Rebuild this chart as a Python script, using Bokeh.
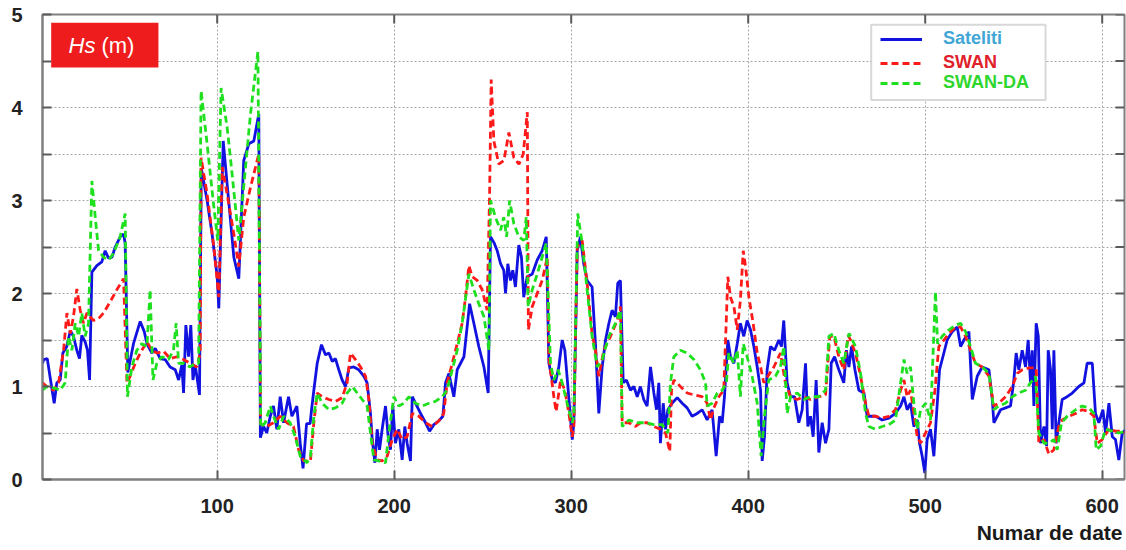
from bokeh.plotting import figure
from bokeh.models import (Range1d, FixedTicker, Legend, LegendItem,
                          BoxAnnotation, Label, Title)
from bokeh.embed import file_html
from bokeh.resources import INLINE

# ---------------- data ----------------
sat_x = [1.3, 2, 4, 5.6, 7.9, 9.4, 11.3, 12.8, 15, 17, 18.8, 20.7, 22.2, 23.5, 25.4, 26.7, 27.9,
         29.2, 32, 34.8, 36.7, 38.6, 40.5, 42.4, 45.2, 47.1, 48, 49.5, 52.7, 56.5, 58.8, 60.3, 63.1,
         65, 67.8, 70.6, 73.4, 76.3, 78.2, 80, 81, 82.3, 83.8, 85.1, 86.3, 87.6, 90, 91, 94.3, 97.1,
         100, 100.9, 103.4, 105.6, 107.5, 109.4, 112.2, 115, 117.9, 120.7, 123.5, 124.4, 126.2, 128,
         130, 131.8, 133.7, 135.6, 137.5, 140.3, 142.2, 145, 146.9, 148.5, 150.5, 152.5, 153.3,
         154.6, 156.5, 158.9, 161.2, 163.1, 165, 166.8, 168.7, 170.6, 172.5, 174.4, 177.2, 180,
         182.9, 184.7, 186.6, 187.6, 189.1, 190.4, 191.7, 193.2, 195.1, 196.6, 197.9, 199.2, 200.7,
         202.6, 204.5, 206, 207.3, 209.2, 210.2, 212, 214.9, 217.7, 220, 222.4, 225.2, 227.5, 229,
         230.9, 233.7, 235.6, 237.5, 239.4, 241.2, 242.6, 245, 247.8, 250.7, 253.1, 254.4, 256.3,
         258.2, 260.1, 261.9, 262.9, 264.2, 265.7, 267, 268.5, 270.4, 271.9, 273.2, 275.1, 278,
         280.8, 283.6, 285.9, 287.4, 289.3, 291.1, 293, 294.9, 296.4, 298.3, 300.6, 301.5, 303.4,
         305.2, 307.1, 309, 311.8, 313.7, 315.6, 317.5, 319.4, 321.3, 323.1, 325, 326.3, 327.8,
         329.4, 331.2, 333.5, 335.4, 337.3, 339.1, 341, 342.9, 344.8, 346.7, 348.2, 349.5, 350.4,
         352, 353.3, 354.6, 357, 359.9, 362.7, 365.5, 368.3, 371.2, 374, 376.8, 379.6, 381.9, 383.8,
         385.3, 386.6, 388.5, 390, 391.9, 393.8, 395.6, 397.5, 399.4, 401.3, 403.2, 405.1, 407,
         407.9, 409.2, 410.7, 412.6, 414.9, 417.3, 418.8, 420.1, 422, 423.9, 426.2, 428.6, 430.5,
         432.4, 433.7, 435.2, 436.7, 438.4, 439.9, 441.8, 443.7, 445.6, 446.9, 448.8, 451.2, 454,
         455.5, 456.9, 458.4, 460.3, 462.5, 465.4, 467.2, 472, 475.7, 479.5, 483.2, 486.1, 488,
         489.8, 491.7, 493.6, 495.5, 496.8, 498.3, 499.8, 501.1, 503, 504.9, 506.2, 508.1, 510,
         512.4, 515.3, 518.1, 520, 521.9, 524.7, 526.6, 529.4, 532.2, 536, 537.9, 538.8, 540.7,
         542.6, 545.4, 548.2, 550.1, 551.4, 552.9, 554.8, 556.7, 558.2, 559.5, 560.5, 561.4, 562.7,
         563.9, 565.2, 567.1, 568.6, 569.5, 570.8, 571.8, 572.7, 574, 575.5, 577.4, 580.2, 583.1,
         586.8, 589.7, 591.5, 594.4, 596.2, 598.1, 600.4, 601.9, 603.8, 605.7, 607.5, 609.4, 611.3,
         613.8]
sat_hs = [1.25, 1.29, 1.3, 1.1, 0.82, 1.04, 1.07, 1.36, 1.43, 1.6, 1.54, 1.39, 1.3, 1.55, 1.48, 1.39,
          1.07, 2.23, 2.3, 2.34, 2.46, 2.38, 2.39, 2.5, 2.61, 2.64, 2.54, 1.15, 1.46, 1.7, 1.59, 1.46,
          1.36, 1.41, 1.3, 1.29, 1.21, 1.18, 1.07, 1.23, 0.93, 1.66, 1.32, 1.66, 1.07, 1.23, 0.91,
          3.35, 3.0, 2.64, 2.18, 1.84, 3.64, 3.18, 2.79, 2.39, 2.16, 3.43, 3.61, 3.64, 3.93, 0.45,
          0.57, 0.5, 0.68, 0.79, 0.54, 0.89, 0.61, 0.89, 0.68, 0.79, 0.39, 0.12, 0.6, 0.6, 0.75,
          0.96, 1.25, 1.45, 1.34, 1.36, 1.27, 1.3, 1.18, 1.07, 1.0, 1.2, 1.21, 1.18, 1.11, 1.04,
          0.71, 0.43, 0.18, 0.54, 0.32, 0.54, 0.79, 0.46, 0.32, 0.79, 0.39, 0.54, 0.21, 0.57, 0.39,
          0.2, 0.89, 0.82, 0.71, 0.61, 0.52, 0.59, 0.63, 0.68, 1.04, 1.14, 0.89, 1.18, 1.25, 1.32,
          1.64, 1.89, 1.68, 1.43, 1.21, 0.93, 2.61, 2.55, 2.46, 2.32, 2.25, 2.0, 2.32, 2.14, 2.25,
          2.07, 2.52, 2.39, 1.96, 2.18, 2.21, 2.36, 2.46, 2.61, 1.25, 1.07, 1.04, 1.21, 1.5, 1.39,
          0.96, 0.43, 0.61, 2.46, 2.61, 2.32, 2.14, 2.07, 1.46, 0.71, 1.21, 1.5, 1.68, 1.82, 1.75,
          2.11, 2.14, 1.04, 1.07, 0.96, 1.0, 0.89, 1.0, 0.86, 0.79, 1.21, 0.93, 0.75, 1.04, 0.39,
          0.82, 0.54, 0.75, 0.82, 0.88, 0.82, 0.77, 0.68, 0.71, 0.75, 0.64, 0.75, 0.25, 0.68, 0.61,
          0.89, 1.5, 1.32, 1.25, 1.46, 1.68, 1.54, 1.71, 1.61, 1.43, 1.21, 0.96, 0.2, 0.46, 1.18,
          1.43, 1.39, 1.5, 1.43, 1.71, 1.04, 0.89, 0.89, 0.61, 0.75, 1.25, 0.57, 0.68, 0.46, 1.07,
          0.29, 0.61, 0.39, 0.54, 1.25, 1.32, 1.18, 1.04, 1.39, 1.21, 1.43, 1.18, 0.96, 0.93, 0.68,
          0.68, 0.64, 0.66, 0.71, 0.79, 0.89, 0.75, 0.82, 0.57, 0.64, 0.39, 0.25, 0.07, 0.43, 0.54,
          0.25, 0.64, 1.18, 1.32, 1.5, 1.59, 1.64, 1.43, 1.5, 1.59, 0.86, 1.11, 1.21, 1.18, 0.86,
          0.61, 0.68, 0.75, 0.77, 0.79, 1.07, 1.36, 1.18, 1.39, 1.21, 1.5, 1.04, 1.39, 0.79, 1.68,
          1.54, 0.39, 0.57, 0.36, 1.39, 1.18, 0.54, 1.39, 0.39, 0.61, 0.86, 0.89, 0.93, 1.0, 1.04,
          1.25, 1.25, 0.71, 0.61, 0.75, 0.5, 0.82, 0.46, 0.43, 0.21, 0.5, 0.54]

swan_x = [1.3, 3.8, 7.5, 10.4, 13.2, 15.1, 17, 18.8, 20.7, 22.6, 24.5, 26.4, 28.2, 30.1, 33, 35.8,
          39.5, 43.3, 47.1, 49, 50.8, 53.7, 56.5, 60.3, 63.1, 65.9, 69.7, 73.4, 77.2, 81, 84.7,
          88.5, 90.4, 90.9, 94.3, 98.1, 100.9, 102.8, 105.6, 109.4, 112.2, 115, 118.8, 123.5, 124.5,
          128, 131.8, 135.6, 139.4, 143.1, 146, 148.8, 152.7, 154.6, 156.5, 159.3, 163.1, 166.8,
          170.6, 173.4, 175.3, 178.1, 181, 183.8, 185.7, 187.6, 190.4, 193.2, 196, 198.9, 201.7,
          204.5, 207.3, 210.2, 213.9, 217.7, 221.5, 225.2, 228, 229.9, 232.8, 235.6, 238.4, 240.3,
          242.2, 244.1, 246.9, 249.7, 252.5, 253.9, 254.8, 256.3, 259.1, 262, 264.8, 267.6, 270.5,
          272.9, 275.2, 275.8, 278, 280.8, 283.6, 286.5, 287.4, 290.2, 291.5, 294, 296.4, 298.7,
          300.6, 301.5, 303.4, 306.2, 309, 311.8, 313.7, 315.6, 318.4, 322.2, 326, 327.8, 328.8,
          332.6, 336.3, 339.1, 342.9, 346.7, 350.4, 353.3, 355.7, 356.7, 358, 361.7, 365.5, 369.3,
          374, 376.8, 378.7, 380.6, 383.4, 386.2, 388.5, 390, 391.9, 393.8, 395.6, 397.2, 398.5,
          400.4, 402.8, 405.1, 407, 408.8, 411.1, 414.5, 418.2, 421, 423.9, 427.7, 431.4, 435.2,
          439.9, 443.7, 446.1, 448.4, 451.2, 454, 456.5, 457.8, 460.6, 463.5, 466.3, 468.2, 472,
          475.7, 479.5, 483.2, 486.1, 488, 489.8, 491.7, 493.6, 495.5, 497.4, 500.2, 503, 505.5,
          507.7, 510.6, 513.4, 517.1, 520, 522.8, 525.6, 528.4, 532.2, 536, 538.8, 541.6, 545.4,
          549.2, 552, 554.8, 558.6, 562.7, 564.2, 567.1, 569.9, 572.7, 575.5, 577.4, 581.2, 585,
          588.7, 592.5, 595.3, 597.2, 600, 603.8, 607.5, 611.3, 613.8]
swan_hs = [1.04, 1.0, 0.96, 1.04, 1.39, 1.79, 1.57, 1.75, 2.05, 1.82, 1.68, 1.79, 1.75, 1.71, 1.73,
           1.79, 1.91, 2.04, 2.16, 1.04, 1.11, 1.25, 1.36, 1.48, 1.39, 1.36, 1.38, 1.3, 1.32, 1.29,
           1.25, 1.21, 1.36, 3.46, 3.07, 2.5, 1.96, 3.36, 3.07, 2.64, 2.29, 2.82, 3.14, 3.5, 0.6,
           0.57, 0.61, 0.68, 0.61, 0.57, 0.32, 0.2, 0.2, 0.61, 0.93, 0.89, 0.86, 0.84, 0.88, 1.04,
           1.36, 1.29, 1.21, 1.11, 0.86, 0.39, 0.21, 0.2, 0.25, 0.43, 0.54, 0.43, 0.46, 0.71, 0.68,
           0.61, 0.57, 0.63, 0.71, 1.04, 1.25, 1.46, 1.68, 1.96, 2.3, 2.18, 2.14, 2.04, 1.82, 3.07,
           4.3, 3.64, 3.39, 3.43, 3.73, 3.46, 3.39, 3.5, 3.95, 1.61, 1.86, 2.0, 2.14, 2.39, 1.3, 0.89,
           0.73, 1.07, 0.96, 0.71, 0.46, 0.57, 2.5, 2.57, 2.11, 1.57, 1.39, 1.11, 1.39, 1.54, 1.71,
           1.86, 0.61, 0.61, 0.57, 0.61, 0.61, 0.57, 0.54, 0.5, 0.3, 0.96, 1.07, 1.0, 0.93, 0.91,
           0.89, 0.82, 0.64, 0.77, 0.89, 0.96, 2.18, 1.96, 1.86, 1.61, 1.93, 2.46, 2.29, 1.96, 1.68,
           1.36, 1.21, 1.04, 1.11, 1.21, 1.36, 1.04, 0.89, 0.86, 0.89, 0.86, 0.89, 0.91, 1.54, 1.54,
           1.32, 1.18, 1.55, 1.5, 1.36, 1.11, 0.82, 0.68, 0.68, 0.66, 0.68, 0.75, 0.96, 1.07, 0.89,
           0.96, 0.71, 0.46, 0.39, 0.5, 0.61, 0.96, 1.43, 1.5, 1.57, 1.64, 1.64, 1.54, 1.39, 1.25,
           1.21, 1.11, 0.79, 0.82, 0.89, 1.0, 1.14, 1.18, 1.2, 1.2, 0.39, 0.43, 0.27, 0.32, 0.57,
           0.64, 0.68, 0.71, 0.75, 0.73, 0.68, 0.39, 0.43, 0.54, 0.52, 0.52, 0.5]

swanda_x = [1.3, 3.8, 8.5, 11.3, 14.1, 16, 17.9, 19.8, 21.7, 23.5, 25.4, 27.3, 29.2, 31.1, 33, 35.8,
            38.6, 41.4, 45.2, 48, 49.3, 51.8, 54.6, 57.4, 60.3, 62.1, 63.7, 65.9, 68.7, 72.5, 75.3,
            76.8, 78.2, 81, 84.7, 87.6, 89.5, 90.9, 94.3, 97.7, 100.3, 102.2, 105.6, 108.4, 112.2,
            116, 118.8, 123, 124.6, 127.1, 130, 131.8, 134.7, 137.5, 141.2, 144.1, 146.9, 150.7,
            152.7, 154.6, 156.5, 159.3, 163.1, 166.8, 170.6, 173.4, 176.3, 179.1, 181.9, 184.7,
            186.6, 188.5, 191.3, 195.1, 197, 199.8, 202.6, 205.5, 208.3, 212, 215.8, 219.6, 223.3,
            227.1, 229.9, 232.8, 235.6, 238.4, 242.2, 245, 247.8, 250.7, 253.5, 254.4, 257.2, 260.1,
            261.9, 263.5, 265.2, 267.6, 270.4, 273.2, 274.6, 275.7, 278, 280.8, 283.6, 285.9, 288.3,
            290.2, 292.6, 294.9, 297.7, 300.6, 301.5, 303.7, 306.2, 309, 311.8, 314.7, 317.5, 321.3,
            325, 327.8, 328.8, 332.6, 337.3, 342, 346.7, 351.4, 354.6, 356.1, 358, 361.7, 365.5,
            369.3, 373, 375.9, 376.8, 379.6, 382.5, 385.3, 387.7, 389, 391.9, 393.8, 395.6, 397.2,
            399.4, 402.2, 405.1, 407.3, 409.2, 411.6, 415.4, 418.2, 420.1, 422, 423.9, 427.7, 431.4,
            435.2, 439.9, 443.7, 445.6, 448.4, 451.2, 454, 456.9, 457.8, 460.6, 463.5, 466.3, 468.2,
            472, 475.7, 479.5, 483.2, 486.1, 488, 489.8, 491.7, 493.6, 495.5, 497.4, 500.2, 503,
            505.8, 507, 509.6, 513.4, 517.1, 520, 522.8, 525.6, 528.4, 532.2, 536, 538.8, 541.6,
            545.4, 549.2, 552.9, 556.7, 559.5, 562.3, 564.2, 567.1, 569.9, 572.7, 574.6, 577, 580.2,
            585, 588.7, 592.5, 595.3, 596.6, 599.1, 601.9, 605.7, 609.4, 613.8]
swanda_hs = [0.96, 1.0, 0.98, 0.96, 1.04, 1.54, 1.39, 1.68, 1.54, 1.79, 1.54, 1.68, 3.21, 2.82, 2.46,
             2.39, 2.36, 2.43, 2.61, 2.86, 0.89, 1.21, 1.39, 1.46, 1.43, 2.04, 1.07, 1.25, 1.32,
             1.29, 1.39, 1.68, 1.25, 1.25, 1.21, 1.25, 1.25, 4.18, 3.61, 3.0, 2.57, 4.21, 3.79,
             3.29, 2.57, 3.36, 3.93, 4.6, 0.56, 0.61, 0.79, 0.68, 0.54, 0.68, 0.61, 0.46, 0.25,
             0.18, 0.25, 0.68, 0.93, 0.82, 0.75, 0.77, 0.82, 0.93, 1.0, 0.93, 0.86, 0.79, 0.5, 0.21,
             0.2, 0.18, 0.5, 0.89, 0.79, 0.82, 0.89, 0.82, 0.79, 0.82, 0.84, 0.89, 0.96, 1.18, 1.39,
             1.68, 2.21, 2.04, 1.89, 1.75, 1.39, 3.0, 2.82, 2.68, 2.82, 2.61, 3.0, 2.75, 2.61, 2.57,
             2.82, 1.86, 2.04, 2.21, 2.39, 2.54, 1.25, 1.07, 1.18, 1.04, 0.82, 0.61, 0.68, 2.86,
             2.54, 2.04, 1.54, 1.21, 1.29, 1.54, 1.68, 1.82, 0.57, 0.64, 0.61, 0.61, 0.59, 0.59, 0.5,
             1.04, 1.32, 1.39, 1.36, 1.29, 1.18, 1.04, 0.79, 0.82, 0.93, 0.96, 1.04, 1.36, 1.25,
             1.39, 0.89, 1.46, 1.32, 1.11, 0.82, 0.25, 0.68, 1.07, 1.11, 1.21, 1.43, 0.71, 0.89,
             0.93, 0.86, 0.89, 0.89, 0.96, 1.54, 1.57, 1.39, 1.25, 1.57, 1.54, 1.43, 1.14, 0.71,
             0.57, 0.54, 0.57, 0.59, 0.64, 1.04, 1.29, 1.14, 1.21, 0.82, 0.54, 0.75, 0.82, 0.64,
             2.02, 1.46, 1.54, 1.61, 1.66, 1.68, 1.59, 1.43, 1.25, 1.21, 1.14, 0.75, 0.79, 0.82,
             0.89, 0.93, 0.96, 1.04, 1.11, 0.5, 0.39, 0.39, 0.43, 0.32, 0.61, 0.68, 0.75, 0.79, 0.77,
             0.71, 0.32, 0.36, 0.54, 0.52, 0.5, 0.52]

series_names = ["Sateliti", "SWAN", "SWAN-DA"]
x_ticks = [100, 200, 300, 400, 500, 600]
y_ticks = [0, 1, 2, 3, 4, 5]
y_minor_ticks = [0.5, 1.5, 2.5, 3.5, 4.5]
unit_text = ["Hs", "(m)"]
x_title = "Numar de date"

# ---------------- figure ----------------
FONT = "Liberation Sans"
X0, X1, Y0, Y1 = 1.3, 612.6, 0, 5
p = figure(width=1126, height=550, x_range=Range1d(X0, X1), y_range=Range1d(Y0, Y1),
           output_backend="svg", toolbar_location=None,
           min_border_left=42, min_border_right=2, min_border_top=14, min_border_bottom=71,
           background_fill_color="white", border_fill_color="white",
           outline_line_color="#808080", outline_line_width=2)

p.xaxis.ticker = FixedTicker(ticks=x_ticks)
p.yaxis.ticker = FixedTicker(ticks=y_ticks, minor_ticks=y_minor_ticks)
for ax in (p.xaxis[0], p.yaxis[0]):
    ax.axis_line_color = "#808080"
    ax.axis_line_width = 2
    ax.major_tick_in = 9
    ax.major_tick_out = 0
    ax.minor_tick_in = 9
    ax.minor_tick_out = 0
    ax.major_tick_line_color = "#5a5a5a"
    ax.major_tick_line_width = 2
    ax.minor_tick_line_color = "#5a5a5a"
    ax.minor_tick_line_width = 2
    ax.major_label_text_font = FONT
    ax.major_label_text_font_size = "20px"
    ax.major_label_text_font_style = "bold"
    ax.major_label_text_color = "#222222"
p.xaxis.major_label_standoff = 19
p.yaxis.major_label_standoff = 20

for g in (p.xgrid[0], p.ygrid[0]):
    g.grid_line_color = "#a8a8a8"
    g.grid_line_dash = "2 2"
    g.grid_line_width = 1
p.ygrid[0].minor_grid_line_color = "#a8a8a8"
p.ygrid[0].minor_grid_line_dash = "2 2"
p.ygrid[0].minor_grid_line_width = 1

# inward ticks on the top and right frame edges (from the tick lists)
tick_len_y = 9 / 93.0
tick_len_x = 9 / 1.77
p.segment(x0=x_ticks, y0=[Y1] * len(x_ticks), x1=x_ticks,
          y1=[Y1 - tick_len_y] * len(x_ticks), line_color="#5a5a5a", line_width=2)
right_ticks = y_ticks + y_minor_ticks
p.segment(x0=[X1] * len(right_ticks), y0=right_ticks, x1=[X1 - tick_len_x] * len(right_ticks),
          y1=right_ticks, line_color="#5a5a5a", line_width=2)

# ---------------- series ----------------
r_sat = p.line(sat_x, sat_hs, line_color="#1212E0", line_width=2.8)
r_swan = p.line(swan_x, swan_hs, line_color="#FF1A1A", line_width=2.8, line_dash="7 4")
r_da = p.line(swanda_x, swanda_hs, line_color="#1EE01E", line_width=2.8, line_dash="7 4")

# ---------------- unit box ----------------
p.add_layout(BoxAnnotation(left=6.2, right=66.8, bottom=4.43, top=4.91,
                           fill_color="#EE1C1C", fill_alpha=1.0, line_color=None))
p.add_layout(Label(x=16, y=4.67, text=unit_text[0], text_font=FONT, text_font_size="22px",
                   text_font_style="italic", text_color="white", text_baseline="middle"))
p.add_layout(Label(x=34.6, y=4.67, text=unit_text[1], text_font=FONT, text_font_size="22px",
                   text_color="white", text_baseline="middle"))

# ---------------- legend ----------------
p.add_layout(BoxAnnotation(left=469.5, right=568.0, bottom=4.08, top=4.89,
                           fill_color="white", fill_alpha=1.0,
                           line_color="#7f7f7f", line_width=2))
legend_colors = ["#3FA6D6", "#E0202A", "#2ED62E"]
legend_bottoms = [430, 406, 386]
for name, rend, col, yb in zip(series_names, [r_sat, r_swan, r_da], legend_colors, legend_bottoms):
    leg = Legend(items=[LegendItem(label=name, renderers=[rend])], location=(838, yb),
                 orientation="vertical", border_line_color=None, background_fill_alpha=0,
                 padding=0, margin=0, spacing=0, glyph_width=42, glyph_height=20,
                 label_height=20, label_standoff=21, label_text_font=FONT,
                 label_text_font_style="bold", label_text_font_size="18px",
                 label_text_color=col, label_text_baseline="middle")
    p.add_layout(leg)

# ---------------- x title ----------------
p.add_layout(Title(text=x_title, align="right", text_font=FONT, text_font_size="21px",
                   text_font_style="bold", text_color="#1a1a1a", standoff=6,
                   text_line_height=1.0, offset=2),
             "below")

open("out.html", "w").write(file_html(p, INLINE))
